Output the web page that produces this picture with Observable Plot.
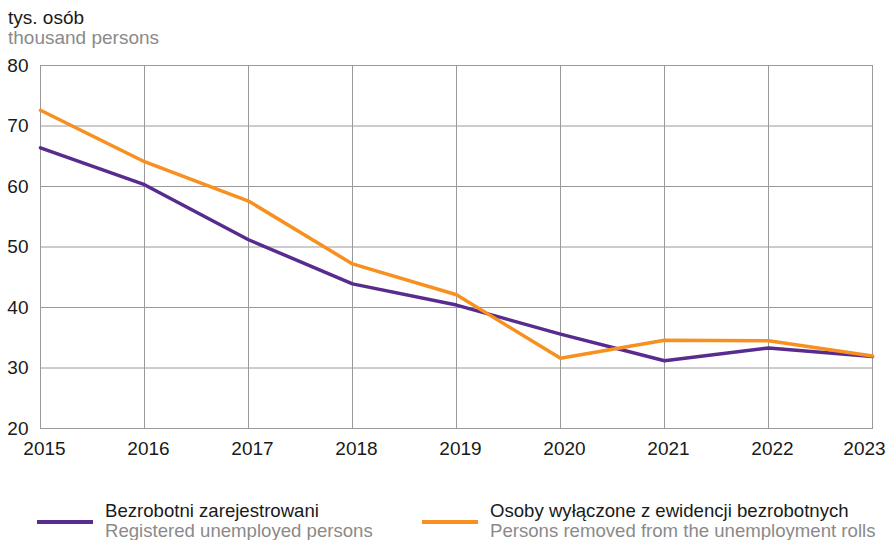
<!DOCTYPE html>
<html>
<head>
<meta charset="utf-8">
<script src="https://cdn.jsdelivr.net/npm/d3@7"></script>
<script src="https://cdn.jsdelivr.net/npm/@observablehq/plot@0.6"></script>
<style>
  body { margin: 0; background: #fff; font-family: "Liberation Sans", Arial, sans-serif; }
  #wrap { position: relative; width: 889px; height: 540px; overflow: hidden; }
  .t { position: absolute; font-size: 19px; line-height: 20px; white-space: nowrap; }
  .lg { font-size: 18.6px; line-height: 19.6px; }
  .dark { color: #1a1a1a; }
  .gray { color: #8a8a8a; }
  #chart { position: absolute; left: 0; top: 55px; }
  .sw { position: absolute; height: 4px; }
</style>
</head>
<body>
<div id="wrap">
  <div class="t" style="left:8px; top:8px;"><span class="dark">tys. osób</span><br><span class="gray">thousand persons</span></div>
  <div id="chart"></div>
  <div class="sw" style="left:37px; top:520px; width:56px; background:#572c8e;"></div>
  <div class="t lg" style="left:105px; top:501px;"><span class="dark">Bezrobotni zarejestrowani</span><br><span class="gray">Registered unemployed persons</span></div>
  <div class="sw" style="left:422px; top:520px; width:56px; background:#f7901e;"></div>
  <div class="t lg" style="left:490px; top:501px;"><span class="dark">Osoby wyłączone z ewidencji bezrobotnych</span><br><span class="gray">Persons removed from the unemployment rolls</span></div>
</div>
<script>
const years = [2015, 2016, 2017, 2018, 2019, 2020, 2021, 2022, 2023];
const registered = [66.4, 60.3, 51.2, 43.9, 40.4, 35.6, 31.2, 33.3, 31.9];
const removed = [72.6, 64.1, 57.6, 47.2, 42.1, 31.6, 34.6, 34.5, 32.0];
const yTicks = [20, 30, 40, 50, 60, 70, 80];
const seriesNames = ["Bezrobotni zarejestrowani", "Osoby wyłączone z ewidencji bezrobotnych"];
const seriesColors = ["#572c8e", "#f7901e"];

const data = [];
years.forEach((y, i) => {
  data.push({year: y, value: registered[i], series: seriesNames[0]});
  data.push({year: y, value: removed[i], series: seriesNames[1]});
});

const innerYears = years.slice(0, -1);
const lastYear = years.slice(-1);

const chart = Plot.plot({
  width: 889,
  height: 413,
  marginTop: 10,
  marginBottom: 40,
  marginLeft: 40,
  marginRight: 17,
  style: {fontFamily: "Liberation Sans, Arial, sans-serif", fontSize: "19px", color: "#1a1a1a", background: "#fff"},
  x: {domain: [2015, 2023], label: null},
  y: {domain: [20, 80], label: null},
  color: {domain: seriesNames, range: seriesColors},
  marks: [
    Plot.gridX(years, {stroke: "#9a9a9a", strokeOpacity: 1, strokeWidth: 1}),
    Plot.gridY(yTicks, {stroke: "#9a9a9a", strokeOpacity: 1, strokeWidth: 1}),
    Plot.frame({stroke: "#9a9a9a", strokeWidth: 1}),
    Plot.axisX(innerYears, {tickFormat: d => String(d), tickSize: 0, tickPadding: 13, dx: 4, fontSize: 19, fill: "#1a1a1a", label: null}),
    Plot.axisX(lastYear, {tickFormat: d => String(d), tickSize: 0, tickPadding: 13, dx: -8, fontSize: 19, fill: "#1a1a1a", label: null}),
    Plot.axisY(yTicks, {tickSize: 0, tickPadding: 12, fontSize: 19, fill: "#1a1a1a", label: null}),
    Plot.line(data, {x: "year", y: "value", z: "series", stroke: "series", strokeWidth: 3.5, strokeLinejoin: "round"})
  ]
});
document.getElementById("chart").appendChild(chart);
</script>
</body>
</html>
